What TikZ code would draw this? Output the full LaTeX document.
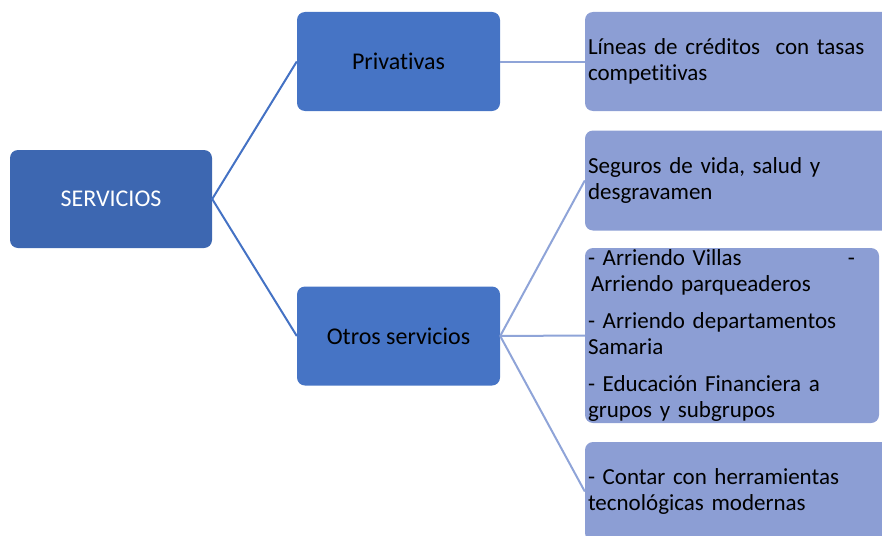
\documentclass[tikz,border=0pt]{standalone}
\usepackage{fontspec}
\setmainfont{Carlito}[Ligatures=NoCommon]
\definecolor{topblue}{HTML}{3D67B1}
\definecolor{midblue}{HTML}{4674C5}
\definecolor{leafblue}{HTML}{8C9ED4}
\definecolor{linedark}{HTML}{4472C4}
\definecolor{linelight}{HTML}{8FA4D8}
\begin{document}
\begin{tikzpicture}[x=1pt,y=-1pt,
   rootbox/.style={fill=topblue,rounded corners=8pt,text=white,
     minimum width=202pt,minimum height=98pt,font=\fontsize{24}{29}\selectfont},
   midbox/.style={fill=midblue,rounded corners=8pt,text=black,
     minimum width=203pt,minimum height=99pt,font=\fontsize{24}{29}\selectfont},
   leafbox/.style={fill=leafblue,rounded corners=8pt,text=black,align=left,
     inner xsep=3pt,inner ysep=0pt,font=\fontsize{23}{26.5}\selectfont},
   darklink/.style={linedark,line width=2pt},
   lightlink/.style={linelight,line width=2pt}]
   \useasboundingbox (0,0) rectangle (882,535);
   \clip (0,0) rectangle (882,535);
   \node[rootbox] (serv) at (111,199) {SERVICIOS};
   \node[midbox] (priv) at (398.5,61.5) {Privativas};
   \node[midbox] (otros) at (398.5,336) {Otros servicios};
   \node[leafbox,text width=299pt,minimum height=99pt] (lin) at (737.5,61.5)
    {Líneas de créditos\ \ con tasas\\competitivas};
   \node[leafbox,text width=299pt,minimum height=100pt] (seg) at (737.5,180.5)
    {Seguros de vida, salud y\\desgravamen};
   \node[leafbox,text width=288pt,minimum height=175pt] (arr) at (732,335.5)
    {\makebox[267pt][l]{- Arriendo Villas\hfill -}\\
     \hspace*{3pt}Arriendo parqueaderos\\[10pt]
     - Arriendo departamentos\\Samaria\\[10pt]
     - Educación Financiera a\\grupos y subgrupos};
   \node[leafbox,text width=299pt,minimum height=99pt] (her) at (737.5,491.5)
    {- Contar con herramientas\\tecnológicas modernas};
   \draw[darklink] (priv.west) -- (serv.east) -- (otros.west);
   \draw[lightlink] (priv.east) -- (lin.west);
   \draw[lightlink] (otros.east) -- (seg.west);
   \draw[lightlink] (otros.east) -- (arr.west);
   \draw[lightlink] (otros.east) -- (her.west);
\end{tikzpicture}
\end{document}
